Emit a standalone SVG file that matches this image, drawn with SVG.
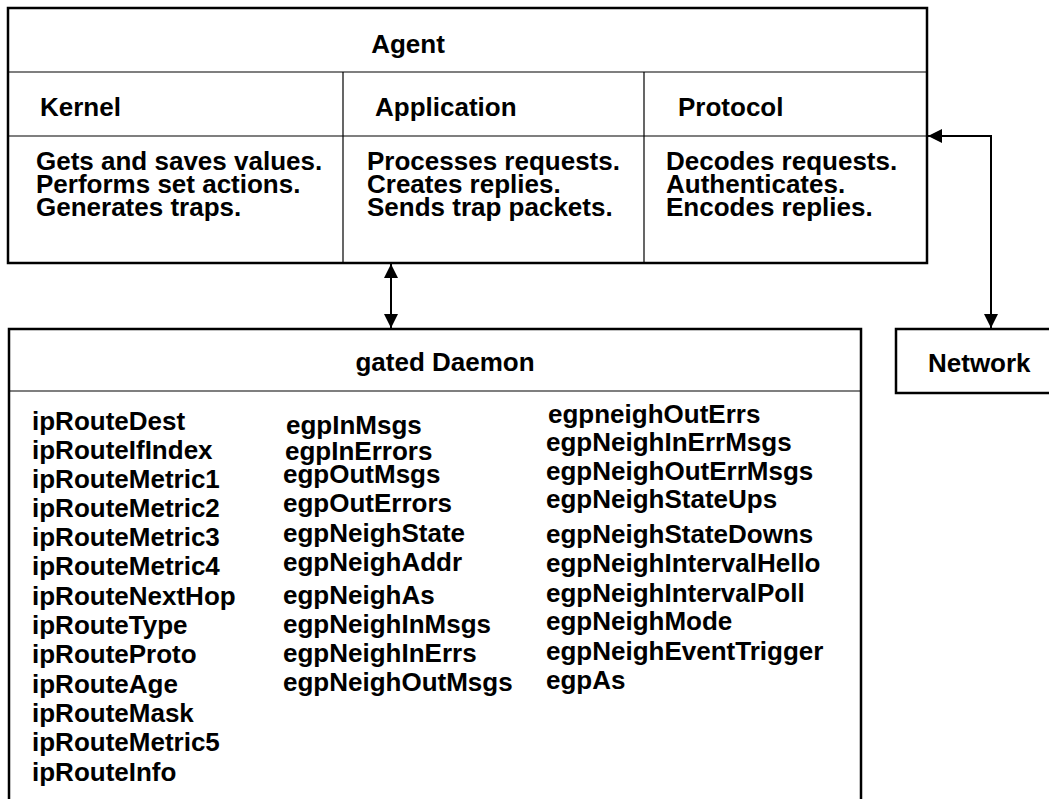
<svg xmlns="http://www.w3.org/2000/svg" width="1049" height="799" viewBox="0 0 1049 799">
<style>
text{font-family:"Liberation Sans",Arial,Helvetica,sans-serif;font-weight:bold;font-size:26px;fill:#000}
.box{fill:#fff;stroke:#000;stroke-width:2.5}
.thin{stroke:#000;stroke-width:1.2;fill:none}
.conn{stroke:#000;stroke-width:2;fill:none}
</style>
<defs>
<marker id="ah" viewBox="0 0 10 10" refX="10" refY="5" markerWidth="7" markerHeight="7" markerUnits="userSpaceOnUse" orient="auto-start-reverse">
<path d="M0,0 L10,5 L0,10 z" fill="#000"/>
</marker>
<marker id="arr" viewBox="0 0 14 14" refX="14" refY="7" markerWidth="14" markerHeight="14" markerUnits="userSpaceOnUse" orient="auto-start-reverse">
<path d="M0,0 L14,7 L0,14 z" fill="#000"/>
</marker>
</defs>
<rect width="1049" height="799" fill="#fff"/>
<g id="agent">
<rect class="box" x="8" y="8" width="919" height="255"/>
<line class="thin" x1="8" y1="72" x2="927" y2="72"/>
<line class="thin" x1="8" y1="136" x2="927" y2="136"/>
<line class="thin" x1="343" y1="72" x2="343" y2="263"/>
<line class="thin" x1="644" y1="72" x2="644" y2="263"/>
<text x="408" y="53" text-anchor="middle">Agent</text>
<text x="40" y="116">Kernel</text>
<text x="375" y="116">Application</text>
<text x="678" y="116">Protocol</text>
<text x="36" y="170">Gets and saves values.</text>
<text x="36" y="193">Performs set actions.</text>
<text x="36" y="216">Generates traps.</text>
<text x="367" y="170">Processes requests.</text>
<text x="367" y="193">Creates replies.</text>
<text x="367" y="216">Sends trap packets.</text>
<text x="666" y="170">Decodes requests.</text>
<text x="666" y="193">Authenticates.</text>
<text x="666" y="216">Encodes replies.</text>
</g>
<g id="gated">
<rect class="box" x="9" y="329" width="852" height="500"/>
<line class="thin" x1="9" y1="391" x2="861" y2="391"/>
<text x="445" y="371" text-anchor="middle">gated Daemon</text>
<text x="32" y="430">ipRouteDest</text>
<text x="32" y="459">ipRouteIfIndex</text>
<text x="32" y="488">ipRouteMetric1</text>
<text x="32" y="517">ipRouteMetric2</text>
<text x="32" y="546">ipRouteMetric3</text>
<text x="32" y="575">ipRouteMetric4</text>
<text x="32" y="605">ipRouteNextHop</text>
<text x="32" y="634">ipRouteType</text>
<text x="32" y="663">ipRouteProto</text>
<text x="32" y="693">ipRouteAge</text>
<text x="32" y="722">ipRouteMask</text>
<text x="32" y="751">ipRouteMetric5</text>
<text x="32" y="781">ipRouteInfo</text>
<text x="286" y="434">egpInMsgs</text>
<text x="285" y="460">egpInErrors</text>
<text x="283" y="483">egpOutMsgs</text>
<text x="283" y="512">egpOutErrors</text>
<text x="283" y="542">egpNeighState</text>
<text x="283" y="571">egpNeighAddr</text>
<text x="283" y="604">egpNeighAs</text>
<text x="283" y="633">egpNeighInMsgs</text>
<text x="283" y="662">egpNeighInErrs</text>
<text x="283" y="691">egpNeighOutMsgs</text>
<text x="548" y="423">egpneighOutErrs</text>
<text x="546" y="451">egpNeighInErrMsgs</text>
<text x="546" y="480">egpNeighOutErrMsgs</text>
<text x="546" y="508">egpNeighStateUps</text>
<text x="546" y="543">egpNeighStateDowns</text>
<text x="546" y="572">egpNeighIntervalHello</text>
<text x="546" y="602">egpNeighIntervalPoll</text>
<text x="546" y="630">egpNeighMode</text>
<text x="546" y="660">egpNeighEventTrigger</text>
<text x="546" y="689">egpAs</text>
</g>
<g id="network">
<rect class="box" x="896" y="329" width="200" height="64"/>
<text x="928" y="372">Network</text>
</g>
<g id="connectors">
<line class="conn" x1="391" y1="264" x2="391" y2="328" marker-start="url(#arr)" marker-end="url(#arr)"/>
<polyline class="conn" points="928,136 991,136 991,328" marker-start="url(#arr)" marker-end="url(#arr)"/>
</g>
</svg>
